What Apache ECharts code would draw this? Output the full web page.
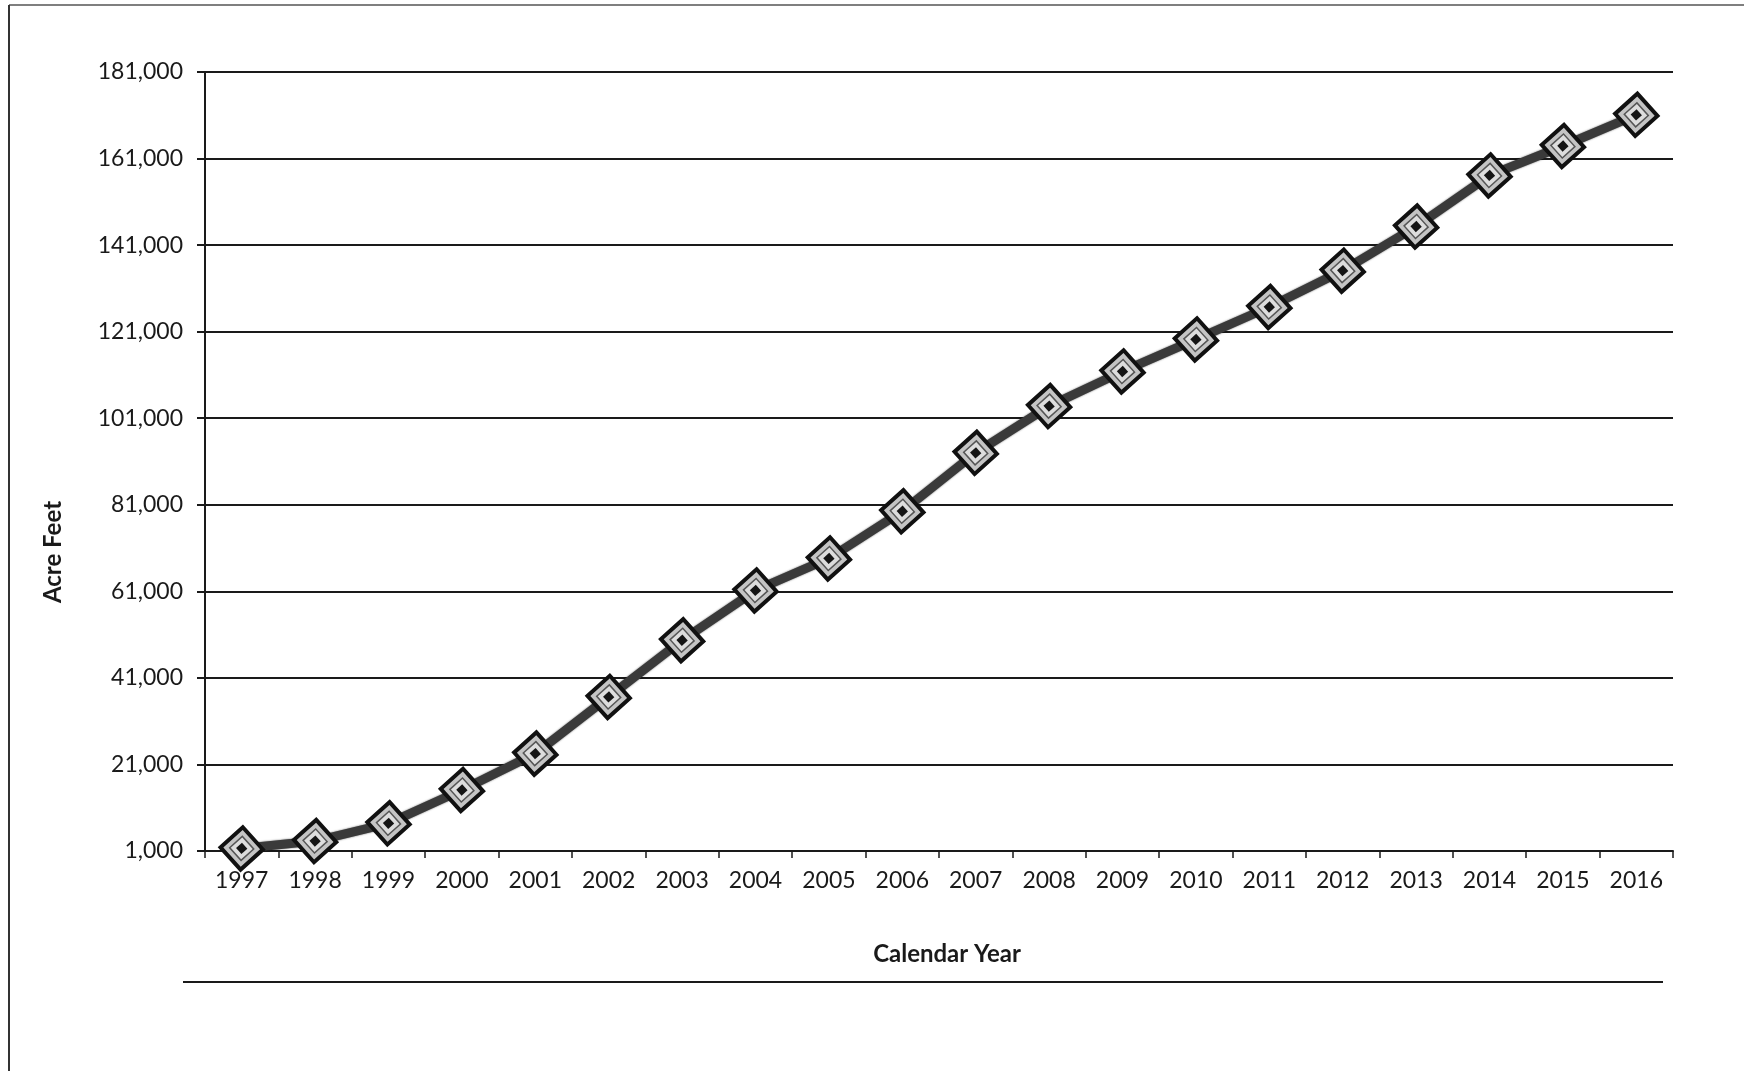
<!DOCTYPE html>
<html>
<head>
<meta charset="utf-8">
<title>Acre Feet by Calendar Year</title>
<script src="https://cdn.jsdelivr.net/npm/echarts@6/dist/echarts.min.js"></script>
<style>
  html, body { margin: 0; padding: 0; background: #ffffff; }
  #chart { width: 1744px; height: 1071px; }
</style>
</head>
<body>
<div id="chart"></div>
<script>
// Cumulative acre feet per calendar year
const years = ['1997', '1998', '1999', '2000', '2001', '2002', '2003', '2004', '2005', '2006',
               '2007', '2008', '2009', '2010', '2011', '2012', '2013', '2014', '2015', '2016'];
const acreFeet = [1600, 3300, 7400, 15100, 23500, 36600, 49700, 61200, 68600, 79500,
                  93000, 103800, 111800, 119200, 126700, 135100, 145300, 157100, 163900, 171100];

// Value axis range and step
const yMin = 1000;
const yMax = 181000;
const yStep = 20000;

const xTitle = 'Calendar Year';
const yTitle = 'Acre Feet';

const FONT = 'Lato, "Liberation Sans", Arial, sans-serif';
const INK = '#1a1a1a';

const chart = echarts.init(document.getElementById('chart'), null, { renderer: 'canvas' });

chart.setOption({
  backgroundColor: '#ffffff',
  animation: false,
  grid: { left: 205, right: 71, top: 72, bottom: 220, containLabel: false },
  xAxis: {
    type: 'category',
    data: years,
    boundaryGap: true,
    name: xTitle,
    nameLocation: 'middle',
    nameGap: 91,
    nameTextStyle: { fontFamily: FONT, fontWeight: 'bold', fontSize: 24, color: INK, padding: [0, 0, 0, 16] },
    axisLine: { show: true, lineStyle: { color: INK, width: 2 } },
    axisTick: { show: true, length: 7, alignWithLabel: false, lineStyle: { color: INK, width: 1.5 } },
    axisLabel: { fontFamily: FONT, fontSize: 23, color: INK, margin: 18, interval: 0 },
    splitLine: { show: false }
  },
  yAxis: {
    type: 'value',
    min: yMin,
    max: yMax,
    interval: yStep,
    axisLine: { show: true, lineStyle: { color: INK, width: 2 } },
    axisTick: { show: true, length: 8, lineStyle: { color: INK, width: 2 } },
    axisLabel: {
      fontFamily: FONT, fontSize: 23, color: INK, margin: 22,
      formatter: v => v.toLocaleString('en-US')
    },
    splitLine: { show: true, lineStyle: { color: INK, width: 2 } }
  },
  series: [
    {
      // main line with framed square markers
      type: 'line',
      data: acreFeet,
      z: 3,
      lineStyle: { color: '#3a3a3a', width: 9, shadowColor: 'rgba(0,0,0,0.6)', shadowBlur: 2 },
      symbol: 'rect',
      symbolSize: 30,
      symbolRotate: 42,
      itemStyle: { color: '#c4c4c4', borderColor: '#111111', borderWidth: 4 },
      showSymbol: true
    },
    {
      // inner frame of each marker
      type: 'line',
      data: acreFeet,
      z: 4,
      silent: true,
      lineStyle: { width: 0, opacity: 0 },
      symbol: 'rect',
      symbolSize: 17,
      symbolRotate: 42,
      itemStyle: { color: '#dddddd', borderColor: '#555555', borderWidth: 1.5 }
    },
    {
      // marker centre
      type: 'line',
      data: acreFeet,
      z: 5,
      silent: true,
      lineStyle: { width: 0, opacity: 0 },
      symbol: 'rect',
      symbolSize: 8,
      symbolRotate: 42,
      itemStyle: { color: '#151515', borderWidth: 0 }
    }
  ],
  graphic: [
    // frame edges
    { type: 'line', shape: { x1: 9, y1: 5, x2: 1744, y2: 5 }, style: { stroke: '#555555', lineWidth: 1.5 } },
    { type: 'line', shape: { x1: 9, y1: 5, x2: 9, y2: 1071 }, style: { stroke: '#333333', lineWidth: 2 } },
    // value axis title
    {
      type: 'text', x: 53, y: 552, rotation: Math.PI / 2,
      style: {
        text: yTitle, fontFamily: FONT, fontWeight: 'bold', fontSize: 24, fill: INK,
        align: 'center', verticalAlign: 'middle'
      }
    },
    // rule under the axis title
    { type: 'line', shape: { x1: 183, y1: 982, x2: 1663, y2: 982 }, style: { stroke: INK, lineWidth: 2 } }
  ]
});
</script>
</body>
</html>
